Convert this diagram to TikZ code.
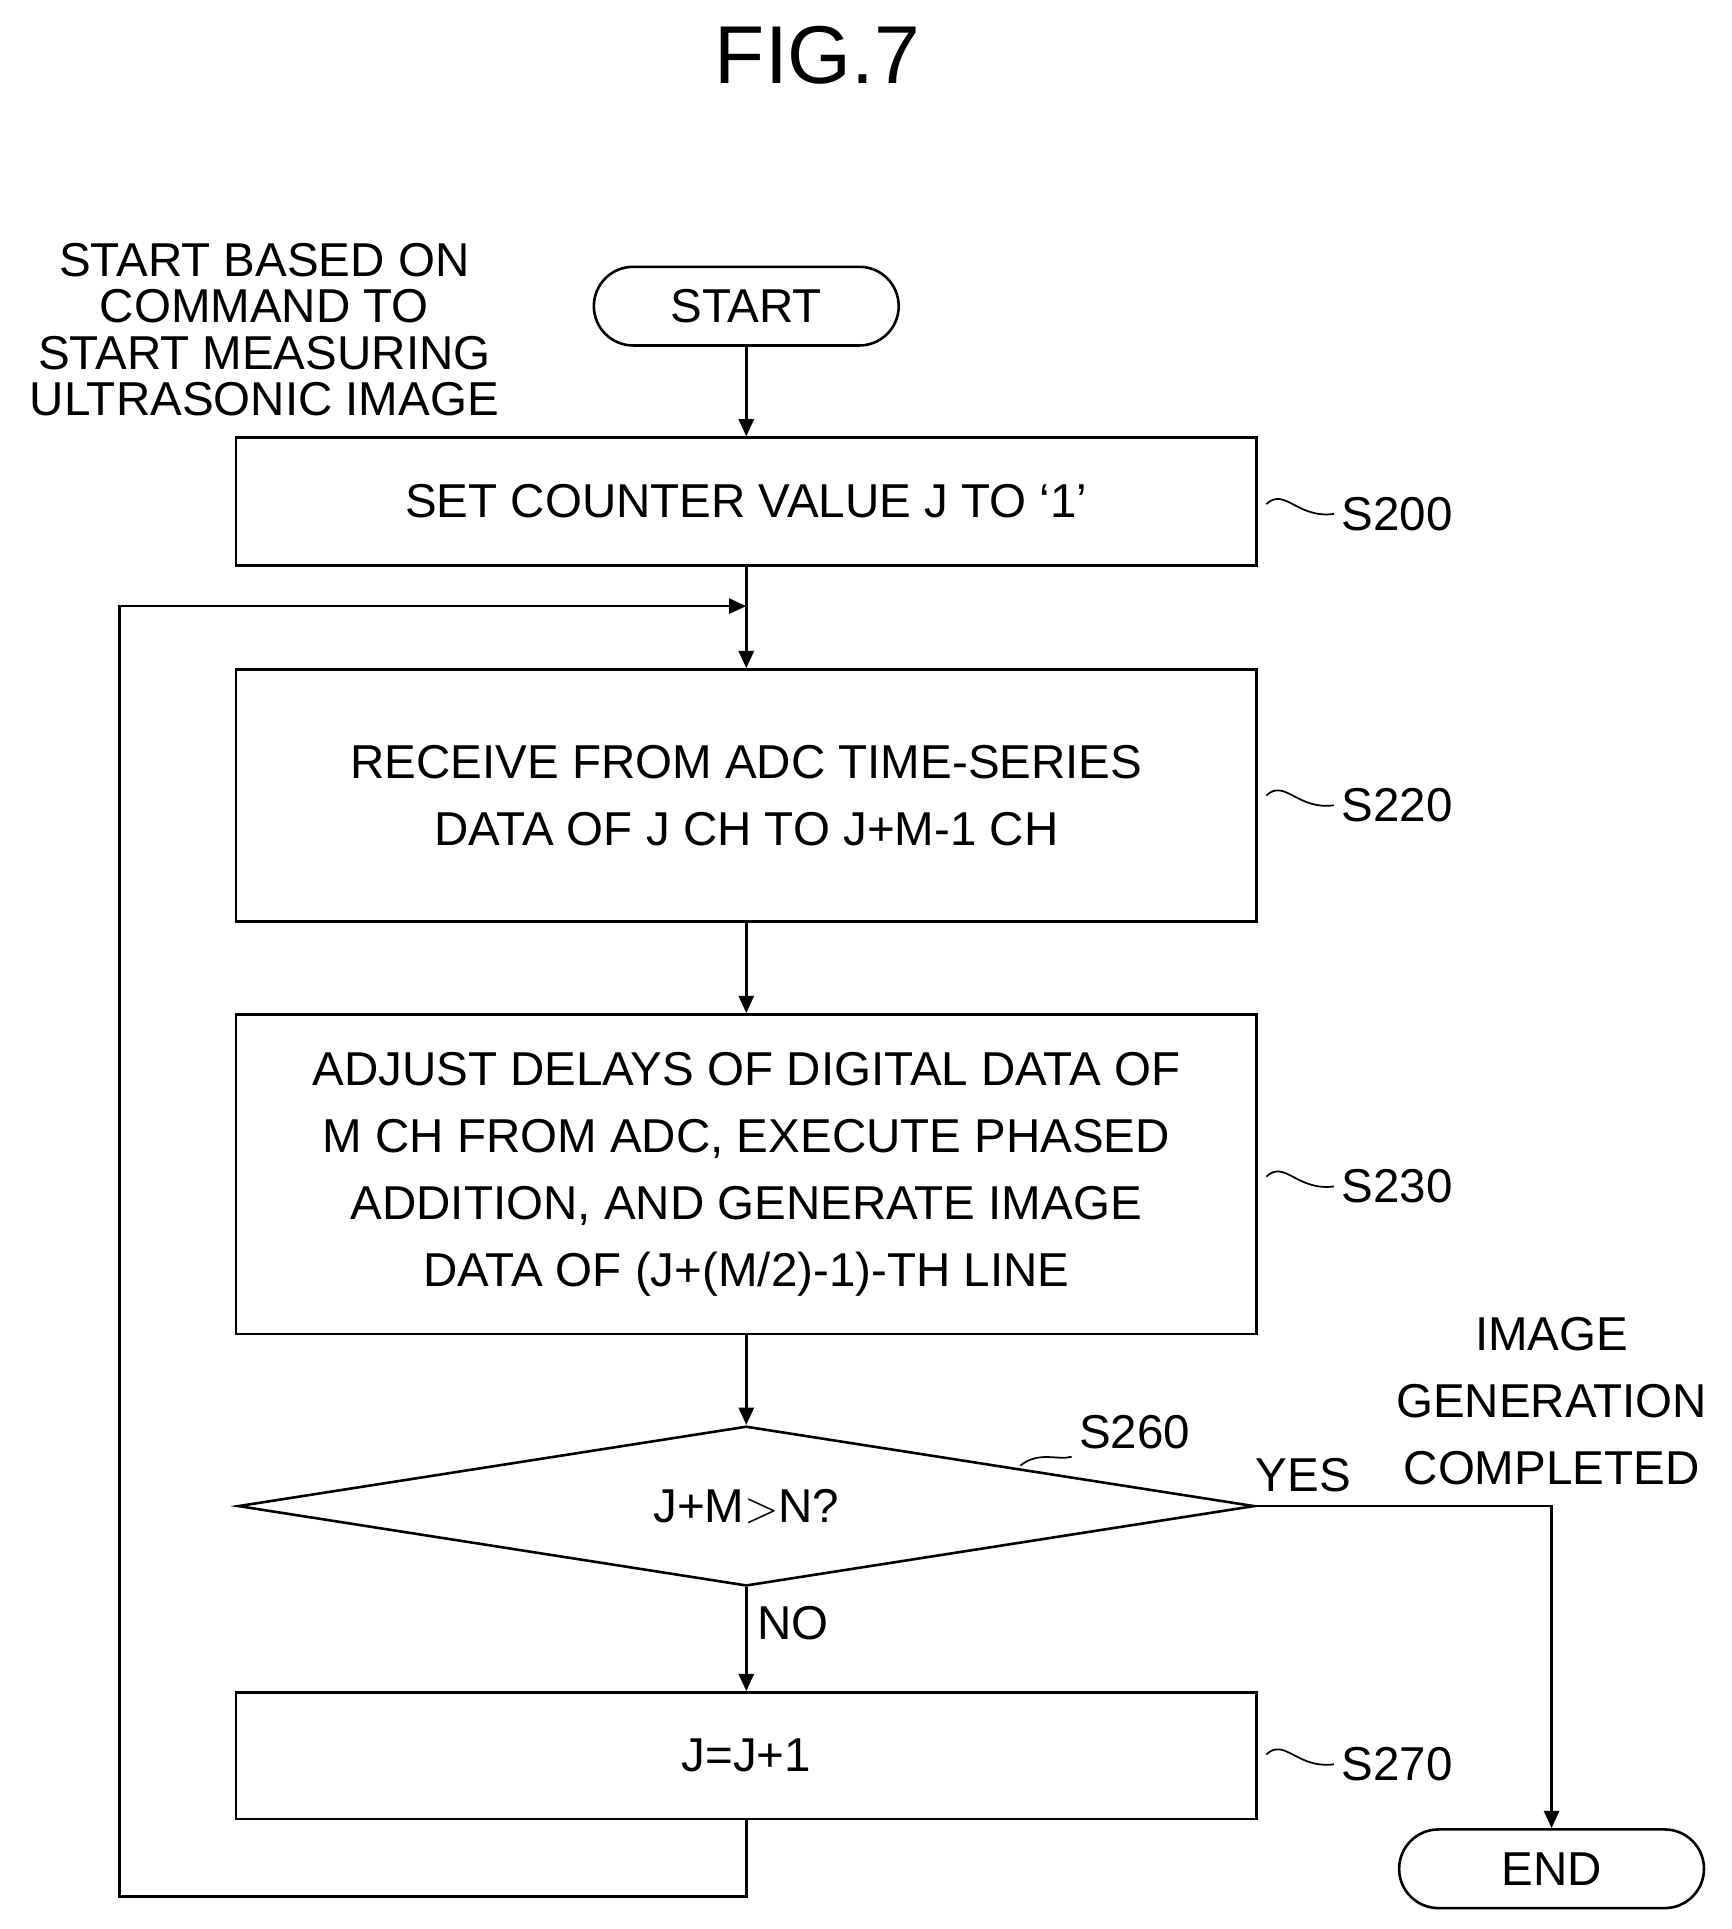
\documentclass[tikz,border=0pt]{standalone}
\usepackage{fontspec}
\setmainfont{Liberation Sans}
\usetikzlibrary{shapes.geometric,arrows.meta}
\tikzset{
  box/.style={draw, line width=1.2pt, minimum width=16.6cm, inner sep=0pt, align=center},
  term/.style={draw, line width=1.2pt, rounded corners=0.64cm, minimum width=4.96cm, minimum height=1.28cm},
  steplabel/.style={anchor=west},
  flow/.style={line width=1.2pt, -{Triangle[length=8pt,width=7pt]}},
  tild/.style={line width=0.8pt},
}
\begin{document}
\begin{tikzpicture}[x=0.02cm, y=-0.02cm, every node/.style={font=\fontsize{22}{31}\selectfont}]
        \useasboundingbox (0,0) rectangle (1408,1569);
        % NODES
        % -----------------
        \node (title) at (665,45) {\fontsize{38}{44}\selectfont FIG.7};
        \node[term] (start) at (607,249) {START};
        \node[align=center, font=\fontsize{22}{21.5}\selectfont] (note) at (215,268) {START BASED ON\\COMMAND TO\\START MEASURING\\ULTRASONIC IMAGE};

        \node[box, minimum height=2.08cm] (s200) at (607,408) {SET COUNTER VALUE J TO `1'};
        \node[box, minimum height=4.1cm] (s220) at (607,647) {RECEIVE FROM ADC TIME-SERIES\\DATA OF J CH TO J+M-1 CH};
        \node[box, minimum height=5.2cm] (s230) at (607,955) {ADJUST DELAYS OF DIGITAL DATA OF\\M CH FROM ADC, EXECUTE PHASED\\ADDITION, AND GENERATE IMAGE\\DATA OF (J+(M/2)-1)-TH LINE};
        \node[draw, line width=1.2pt, diamond, aspect=6.36, minimum width=16.54cm, minimum height=2.6cm, inner sep=0pt] (s260) at (607,1225) {J+M$>$N?};
        \node[box, minimum height=2.06cm] (s270) at (607,1428) {J=J+1};
        \node[term] (end) at (1262,1520) {END};

        \node (yes) at (1060,1200) {YES};
        \node (no) at (645,1320) {NO};
        \node[align=center] (done) at (1262,1140) {IMAGE\\GENERATION\\COMPLETED};

        % STEP LABELS
        % -----------------
        \foreach \nm/\yy in {S200/418, S220/655, S230/965, S270/1435}
          {\node[steplabel] (l\nm) at (1085,\yy) {\nm};
           \draw[tild] (1030,\yy-8) .. controls (1045,\yy-22) and (1055,\yy+4) .. (l\nm.west);}
        \node (lS260) at (923,1165) {S260};
        \draw[tild] (830,1192) .. controls (845,1180) and (860,1188) .. (lS260.south west);

        % EDGES
        % -----------------
        \coordinate (join) at (607,493);
        \draw[flow] (start) -- (s200);
        \draw[line width=1.2pt] (s200) -- (join);
        \draw[flow] (join) -- (s220);
        \draw[flow] (s220) -- (s230);
        \draw[flow] (s230) -- (s260);
        \draw[flow] (s260) -- (s270);
        \draw[flow] (s260.east) -| (end);
        \draw[flow] (s270.south) -- ++(0,62) -| (97,493) -- (join);
\end{tikzpicture}
\end{document}
